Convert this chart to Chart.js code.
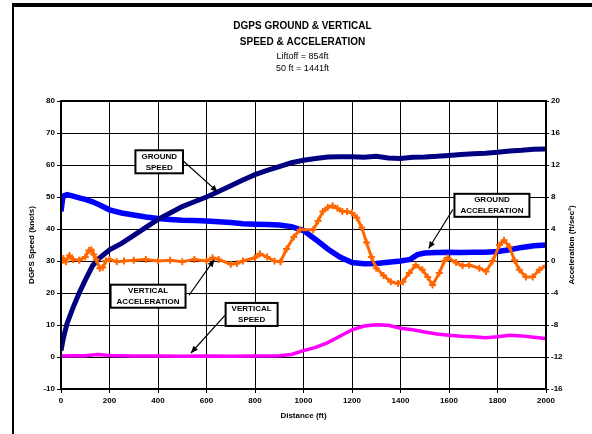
<!DOCTYPE html>
<html>
<head>
<meta charset="utf-8">
<script src="https://cdn.jsdelivr.net/npm/chart.js@4"></script>
<style>
  body { margin: 0; background: #fff; }
  canvas { display: block; }
</style>
</head>
<body>
<canvas id="grafico" width="592" height="434"></canvas>
<script>
// Ground speed (knots) vs distance (ft)
const gsDist = [0,10,25,50,75,100,130,160,200,250,300,350,400,450,500,550,600,650,700,750,800,850,900,950,1000,1050,1100,1150,1200,1250,1300,1350,1400,1450,1500,1550,1600,1650,1700,1750,1800,1850,1900,1950,2000];
const gsKnots = [2,6,10.5,15.5,20,24,28.5,31,33.5,35.5,38,40.5,43,45,47,48.5,50,51.7,53.5,55.3,57,58.3,59.5,60.7,61.5,62,62.5,62.6,62.6,62.4,62.7,62.2,62,62.4,62.5,62.7,63,63.3,63.5,63.7,64,64.4,64.6,64.9,65];

// Ground acceleration (ft/sec2)
const gaDist = [0,8,25,50,75,100,130,160,200,250,300,350,400,450,500,550,600,650,700,750,800,850,900,950,1000,1050,1100,1150,1200,1250,1300,1350,1400,1440,1470,1500,1550,1600,1650,1700,1750,1800,1850,1900,1950,2000];
const gaAccel = [6.2,8.1,8.3,8.1,7.9,7.7,7.4,7.0,6.4,6.0,5.75,5.5,5.3,5.2,5.1,5.05,5.0,4.9,4.8,4.65,4.6,4.55,4.5,4.3,3.8,2.7,1.5,0.5,-0.2,-0.35,-0.3,-0.15,0.0,0.2,0.8,1.0,1.05,1.1,1.05,1.1,1.1,1.2,1.4,1.7,1.9,2.0];

// Vertical acceleration (ft/sec2)
const vaDist = [0,10,20,35,50,75,100,115,125,135,145,160,172,185,200,230,260,300,350,400,450,500,550,600,625,650,700,725,750,800,820,850,880,905,930,960,985,1040,1060,1080,1100,1120,1140,1160,1180,1200,1220,1240,1260,1280,1300,1330,1360,1390,1410,1436,1463,1490,1512,1532,1560,1581,1595,1629,1656,1683,1725,1753,1780,1808,1827,1849,1870,1890,1917,1945,1973,2000];
const vaAccel = [-0.2,0.3,-0.1,0.7,0.2,0.1,0.5,1.3,1.4,0.8,0.2,-0.9,-0.8,0.0,0.2,-0.1,0.0,0.1,0.2,0.0,0.1,-0.1,0.2,0.0,0.4,0.2,-0.4,-0.3,0.0,0.4,0.9,0.5,0.0,-0.1,1.5,3.0,3.9,3.9,5.0,6.2,6.7,6.9,6.6,6.2,6.2,6.0,5.4,4.2,2.3,0.5,-0.9,-1.8,-2.6,-2.8,-2.6,-1.5,-0.5,-1.1,-2.0,-3.0,-1.5,0.0,0.4,-0.2,-0.6,-0.5,-0.9,-1.3,0.0,2.0,2.6,1.8,0.1,-1.1,-2.0,-2.0,-1.1,-0.6];

// Vertical speed (knots)
const vsDist = [0,50,100,150,200,300,400,500,600,700,800,900,950,1000,1050,1100,1150,1200,1250,1300,1350,1400,1450,1500,1550,1600,1650,1700,1750,1800,1850,1900,1950,2000];
const vsKnots = [0.3,0.4,0.4,0.8,0.5,0.3,0.3,0.2,0.3,0.2,0.3,0.4,0.8,2.0,3.0,4.5,6.5,8.5,9.7,10.1,9.9,9.0,8.5,7.8,7.2,6.8,6.5,6.3,6.0,6.3,6.8,6.6,6.2,5.8];

// Etiquetas con flecha (coordenadas en ft / knots)
const notas = [
    { texto: ["GROUND", "SPEED"], caja: [405, 61], desde: [501, 61.5], hasta: [646, 51.6] },
    { texto: ["GROUND", "ACCELERATION"], caja: [1777, 47.4], desde: [1616, 46.1], hasta: [1516, 33.9] },
    { texto: ["VERTICAL", "ACCELERATION"], caja: [359, 19], desde: [528, 19.3], hasta: [632, 30.4] },
    { texto: ["VERTICAL", "SPEED"], caja: [786, 13.3], desde: [676, 13], hasta: [536, 1.25] }
];

const fuente = '"Liberation Sans", Arial, sans-serif';
Chart.defaults.font.family = fuente;
Chart.defaults.color = '#000';

function puntos(xs, ys) {
    return xs.map((x, i) => ({ x: x, y: ys[i] }));
}

const marco = {
    id: 'marco',
    beforeDraw(chart) {
        const ctx = chart.ctx;
        ctx.save();
        ctx.fillStyle = '#fff';
        ctx.fillRect(0, 0, chart.width, chart.height);
        ctx.fillStyle = '#000';
        ctx.fillRect(12, 3, chart.width - 12, 4);
        ctx.fillRect(12, 3, 2, chart.height - 3);
        ctx.restore();
    },
    afterDatasetsDraw(chart) {
        const { ctx, chartArea: a, scales } = chart;
        ctx.save();
        ctx.strokeStyle = '#000';
        ctx.fillStyle = '#000';
        ctx.lineWidth = 2;
        ctx.strokeRect(a.left, a.top, a.right - a.left, a.bottom - a.top);

        ctx.font = 'bold 8px ' + fuente;
        notas.forEach(n => {
            const x0 = scales.x.getPixelForValue(n.desde[0]);
            const y0 = scales.y.getPixelForValue(n.desde[1]);
            const x1 = scales.x.getPixelForValue(n.hasta[0]);
            const y1 = scales.y.getPixelForValue(n.hasta[1]);
            ctx.lineWidth = 1.2;
            ctx.beginPath();
            ctx.moveTo(x0, y0);
            ctx.lineTo(x1, y1);
            ctx.stroke();
            const ang = Math.atan2(y1 - y0, x1 - x0);
            ctx.beginPath();
            ctx.moveTo(x1, y1);
            ctx.lineTo(x1 - 7 * Math.cos(ang) + 3 * Math.sin(ang), y1 - 7 * Math.sin(ang) - 3 * Math.cos(ang));
            ctx.lineTo(x1 - 7 * Math.cos(ang) - 3 * Math.sin(ang), y1 - 7 * Math.sin(ang) + 3 * Math.cos(ang));
            ctx.closePath();
            ctx.fill();

            const cx = scales.x.getPixelForValue(n.caja[0]);
            const cy = scales.y.getPixelForValue(n.caja[1]);
            const w = Math.max(...n.texto.map(t => ctx.measureText(t).width)) + 12;
            const h = 23;
            ctx.fillStyle = '#fff';
            ctx.fillRect(cx - w / 2, cy - h / 2, w, h);
            ctx.lineWidth = 2;
            ctx.strokeRect(cx - w / 2, cy - h / 2, w, h);
            ctx.fillStyle = '#000';
            ctx.textAlign = 'center';
            ctx.textBaseline = 'middle';
            ctx.fillText(n.texto[0], cx, cy - 5.5);
            ctx.fillText(n.texto[1], cx, cy + 5.5);
        });

        ctx.translate(572, (a.top + a.bottom) / 2);
        ctx.rotate(-Math.PI / 2);
        ctx.textAlign = 'center';
        ctx.textBaseline = 'middle';
        ctx.fillText('Acceleration (ft/sec²)', 0, 0);
        ctx.restore();
    }
};

const config = {
    type: 'line',
    data: {
        datasets: [{
            label: 'Vertical acceleration',
            data: puntos(vaDist, vaAccel),
            yAxisID: 'y1',
            borderColor: '#FF6600',
            backgroundColor: '#FF6600',
            borderWidth: 3,
            pointStyle: 'cross',
            pointRadius: 3.5,
            pointBorderWidth: 2,
            pointBorderColor: '#FF6600'
        }, {
            label: 'Ground speed',
            data: puntos(gsDist, gsKnots),
            yAxisID: 'y',
            borderColor: '#000080',
            borderWidth: 5,
            pointRadius: 0
        }, {
            label: 'Ground acceleration',
            data: puntos(gaDist, gaAccel),
            yAxisID: 'y1',
            borderColor: '#0000FF',
            borderWidth: 5.5,
            pointRadius: 0
        }, {
            label: 'Vertical speed',
            data: puntos(vsDist, vsKnots),
            yAxisID: 'y',
            borderColor: '#FF00FF',
            borderWidth: 3.5,
            pointRadius: 0
        }]
    },
    options: {
        responsive: false,
        animation: false,
        devicePixelRatio: 1,
        layout: { padding: { left: 13, right: 0, top: 0, bottom: 0 } },
        plugins: {
            legend: { display: false },
            tooltip: { enabled: false },
            title: {
                display: true,
                text: ['DGPS GROUND & VERTICAL', 'SPEED & ACCELERATION'],
                font: { size: 10, weight: 'bold', lineHeight: 1.6 },
                color: '#000',
                padding: { top: 18, bottom: 0 }
            },
            subtitle: {
                display: true,
                text: ['Liftoff = 854ft', '50 ft = 1441ft'],
                font: { size: 9, lineHeight: 1.3 },
                color: '#000',
                padding: { top: 1, bottom: 26.6 }
            }
        },
        scales: {
            x: {
                type: 'linear',
                min: 0,
                max: 2000,
                afterFit: s => { s.height = 45; },
                ticks: { stepSize: 200, font: { size: 8, weight: 'bold' }, padding: 3, maxRotation: 0, callback: v => String(v) },
                grid: { color: '#000', lineWidth: 1, tickLength: 4 },
                border: { color: '#000', width: 2 },
                title: { display: true, text: 'Distance (ft)', font: { size: 8, weight: 'bold' }, padding: { top: 0, bottom: 13 } }
            },
            y: {
                position: 'left',
                min: -10,
                max: 80,
                afterFit: s => { s.width = 48; },
                ticks: { stepSize: 10, font: { size: 8, weight: 'bold' }, padding: 2 },
                grid: { color: '#000', lineWidth: 1, tickLength: 4 },
                border: { color: '#000', width: 2 },
                title: { display: true, text: 'DGPS Speed (knots)', font: { size: 8, weight: 'bold' }, padding: { top: 14, bottom: 0 } }
            },
            y1: {
                position: 'right',
                min: -16,
                max: 20,
                afterFit: s => { s.width = 46; },
                ticks: { stepSize: 4, font: { size: 8, weight: 'bold' }, padding: 2 },
                grid: { drawOnChartArea: false, color: '#000', tickLength: 3 },
                border: { color: '#000', width: 2 }
            }
        }
    },
    plugins: [marco]
};

const miGrafico = new Chart(document.getElementById('grafico'), config);
</script>
</body>
</html>
